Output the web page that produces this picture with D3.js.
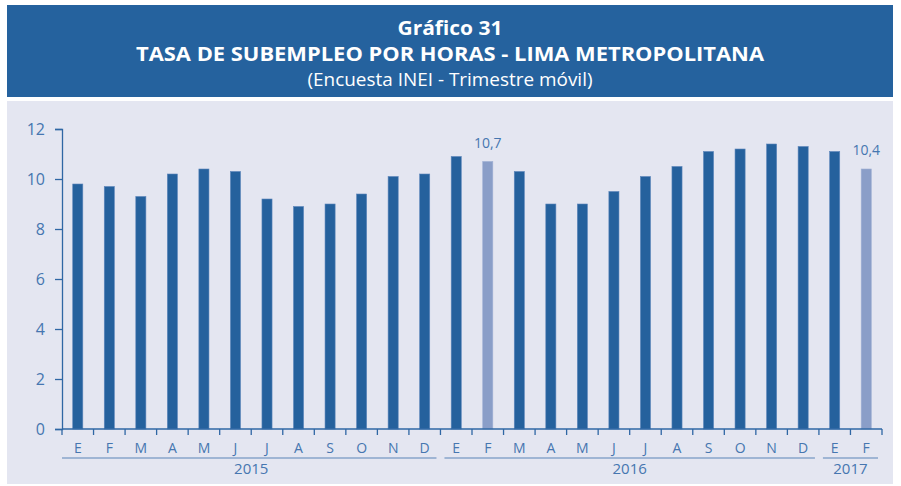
<!DOCTYPE html>
<html>
<head>
<meta charset="utf-8">
<script src="https://cdn.jsdelivr.net/npm/d3@7"></script>
<style>
  body { margin: 0; background: #ffffff; }
  svg { display: block; font-family: "Open Sans", "Noto Sans", sans-serif; }
</style>
</head>
<body>
<div id="chart"></div>
<script>
const months = ["E","F","M","A","M","J","J","A","S","O","N","D",
                "E","F","M","A","M","J","J","A","S","O","N","D",
                "E","F"]
const values = [9.8, 9.7, 9.3, 10.2, 10.4, 10.3, 9.2, 8.9, 9.0, 9.4, 10.1, 10.2,
                10.9, 10.7, 10.3, 9.0, 9.0, 9.5, 10.1, 10.5, 11.1, 11.2, 11.4, 11.3,
                11.1, 10.4]
const highlighted = [13, 25]
const years = [
  { label: "2015", from: 0, to: 11 },
  { label: "2016", from: 12, to: 23 },
  { label: "2017", from: 24, to: 25 }
]
const yTicks = [0, 2, 4, 6, 8, 10, 12]

const width = 901
const height = 486

const svg = d3.select("#chart")
  .append("svg")
  .attr("width", width)
  .attr("height", height)

// header
svg.append("rect")
  .attr("x", 7).attr("y", 5)
  .attr("width", 886).attr("height", 92)
  .attr("fill", "#25629e")

const titles = [
  { text: "Gráfico 31", y: 35, weight: "bold", size: 20, w: 105 },
  { text: "TASA DE SUBEMPLEO POR HORAS - LIMA METROPOLITANA", y: 61, weight: "bold", size: 20, w: 628 },
  { text: "(Encuesta INEI - Trimestre móvil)", y: 86, weight: "normal", size: 18, w: 285 }
]
svg.selectAll(".title")
  .data(titles)
  .enter()
  .append("text")
  .attr("class", "title")
  .attr("x", 450)
  .attr("y", d => d.y)
  .attr("text-anchor", "middle")
  .attr("fill", "#ffffff")
  .attr("font-weight", d => d.weight)
  .attr("font-size", d => d.size)
  .attr("textLength", d => d.w)
  .attr("lengthAdjust", "spacingAndGlyphs")
  .text(d => d.text)

// panel
svg.append("rect")
  .attr("x", 7).attr("y", 101)
  .attr("width", 886).attr("height", 383)
  .attr("fill", "#e4e6f1")

const x = d3.scaleBand()
  .domain(d3.range(values.length))
  .range([62, 882])
  .paddingInner(0.68)
  .paddingOuter(0.34)

const xTicks = d3.scaleLinear()
  .domain([0, values.length])
  .range([62, 882])

const y = d3.scaleLinear()
  .domain([0, 12])
  .range([429, 129])

const axisColor = "#2f67a4"
const textColor = "#4676b0"

// bars
svg.append("g")
  .selectAll("rect")
  .data(values)
  .enter()
  .append("rect")
  .attr("x", (d, i) => x(i))
  .attr("y", d => y(d))
  .attr("width", x.bandwidth())
  .attr("height", d => y(0) - y(d))
  .attr("fill", (d, i) => highlighted.includes(i) ? "#8a9ec8" : "#25619d")
  .attr("stroke", (d, i) => highlighted.includes(i) ? "#9fb0d4" : "#5d86bb")
  .attr("stroke-width", 0.6)

// value labels
svg.append("g")
  .selectAll("text")
  .data(highlighted)
  .enter()
  .append("text")
  .attr("x", i => x(i) + x.bandwidth() / 2)
  .attr("y", i => y(values[i]) - 14)
  .attr("text-anchor", "middle")
  .attr("font-size", 14)
  .attr("fill", textColor)
  .text(i => values[i].toFixed(1).replace(".", ","))

// y axis
const yAxis = svg.append("g")
  .attr("transform", "translate(62,0)")
  .call(d3.axisLeft(y).tickValues(yTicks).tickSize(7).tickPadding(10).tickFormat(d3.format("d")))
yAxis.select(".domain").attr("stroke", axisColor).attr("stroke-width", 1.3)
yAxis.selectAll(".tick line").attr("stroke", axisColor).attr("stroke-width", 1.3)
yAxis.selectAll(".tick text")
  .attr("fill", textColor)
  .attr("font-size", 16)
  .attr("font-family", "\"Open Sans\", \"Noto Sans\", sans-serif")

// x axis baseline + ticks
const xAxis = svg.append("g")
  .attr("transform", "translate(0," + y(0) + ")")
xAxis.append("line")
  .attr("x1", 62).attr("x2", 882)
  .attr("stroke", axisColor).attr("stroke-width", 1.3)
xAxis.selectAll(".xt")
  .data(d3.range(values.length + 1))
  .enter()
  .append("line")
  .attr("x1", d => xTicks(d)).attr("x2", d => xTicks(d))
  .attr("y1", 0).attr("y2", 6)
  .attr("stroke", axisColor).attr("stroke-width", 1.3)

// month labels
svg.append("g")
  .selectAll("text")
  .data(months)
  .enter()
  .append("text")
  .attr("x", (d, i) => x(i) + x.bandwidth() / 2)
  .attr("y", 453)
  .attr("text-anchor", "middle")
  .attr("font-size", 14)
  .attr("fill", textColor)
  .text(d => d)

// year groups
const yearG = svg.append("g")
yearG.selectAll("line")
  .data(years)
  .enter()
  .append("line")
  .attr("x1", (d, i) => xTicks(d.from) + (i === 0 ? 0 : 4))
  .attr("x2", d => xTicks(d.to + 1) - 4)
  .attr("y1", 458).attr("y2", 458)
  .attr("stroke", "#5a84b8").attr("stroke-width", 1.2)
yearG.selectAll("text")
  .data(years)
  .enter()
  .append("text")
  .attr("x", d => (xTicks(d.from) + xTicks(d.to + 1)) / 2)
  .attr("y", 474)
  .attr("text-anchor", "middle")
  .attr("font-size", 15)
  .attr("fill", textColor)
  .text(d => d.label)
</script>
</body>
</html>
